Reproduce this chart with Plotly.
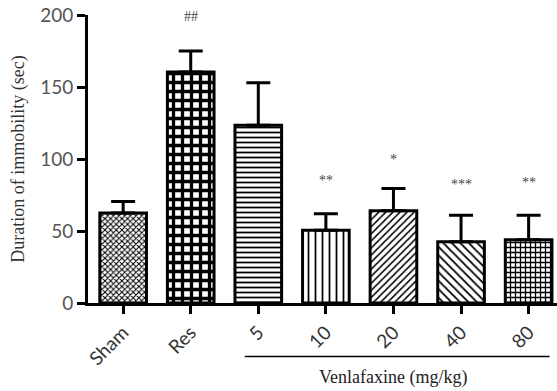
import plotly.graph_objects as go

groups = ["Sham", "Res", "5", "10", "20", "40", "80"]
means = [62.5, 160.5, 123.5, 50.5, 64.0, 42.5, 44.0]
sem_up = [8.0, 14.5, 29.5, 11.5, 15.5, 18.5, 17.0]
marks = ["", "##", "", "**", "*", "***", "**"]
mark_y = [0, 199, 0, 85, 100, 82, 84]
patterns = ["x", "+", "-", "|", "/", "\\", "+"]
pat_size = [4, 9, 5, 7, 5, 6, 5]
pat_solid = [0.45, 0.6, 0.35, 0.25, 0.3, 0.3, 0.45]
group_label = "Venlafaxine (mg/kg)"
y_title = "Duration of immobility (sec)"

x = list(range(len(groups)))
fig = go.Figure()
fig.add_trace(go.Bar(
    x=x, y=means, width=0.69,
    marker=dict(color="white", line=dict(color="black", width=3),
                pattern=dict(shape=patterns, size=pat_size, solidity=pat_solid,
                             fgcolor="black", bgcolor="white", fillmode="replace")),
    error_y=dict(type="data", array=sem_up, arrayminus=[0]*len(groups),
                 symmetric=False, color="black", thickness=3, width=12),
    showlegend=False, hoverinfo="skip",
))
for i, (m, yv) in enumerate(zip(marks, mark_y)):
    if m:
        fig.add_annotation(x=i, y=yv, text=m, showarrow=False,
                           font=dict(family="Liberation Serif", size=14, color="#444"))

fig.add_shape(type="line", xref="x", yref="paper", x0=1.8, x1=6.31, y0=-0.186, y1=-0.186,
              line=dict(color="black", width=1.5))
fig.add_annotation(x=4.0, xref="x", y=-0.257, yref="paper", text=group_label,
                   showarrow=False, yanchor="middle",
                   font=dict(family="Liberation Serif", size=18, color="#222"))
fig.add_annotation(x=-0.15, xref="paper", y=0.5, yref="paper", text=y_title,
                   showarrow=False, textangle=-90, xanchor="center", yanchor="middle",
                   font=dict(family="Liberation Serif", size=18, color="#333"))

fig.update_layout(
    width=557, height=391,
    margin=dict(l=88, r=0, t=15, b=88),
    plot_bgcolor="white", paper_bgcolor="white",
    xaxis=dict(type="linear", range=[-0.52, 6.42], tickmode="array", tickvals=x,
               ticktext=groups, tickangle=-45, automargin=False,
               showline=True, linecolor="black", linewidth=3, ticks="outside",
               ticklen=8, tickwidth=3, tickcolor="black", showgrid=False, zeroline=False,
               tickfont=dict(family="Lato", size=19, color="#333")),
    yaxis=dict(range=[0, 200], tickvals=[0, 50, 100, 150, 200], automargin=False,
               showline=True, linecolor="black", linewidth=3, ticks="outside",
               ticklen=8, tickwidth=3, tickcolor="black", showgrid=False, zeroline=False,
               tickfont=dict(family="Lato", size=19, color="#555")),
)
fig.write_html("out.html", config={"displayModeBar": False},
               post_script="document.body.style.margin='0';document.body.style.overflow='hidden';")
